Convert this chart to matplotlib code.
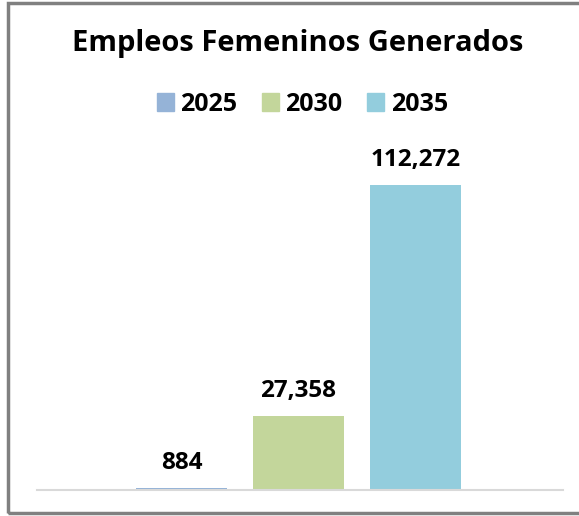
import matplotlib.pyplot as plt
from matplotlib.patches import Rectangle

# data
years = ['2025', '2030', '2035']
empleos = [884, 27358, 112272]
colores = ['#95b3d7', '#c3d69b', '#93cddd']

plt.rcParams['font.family'] = ['Open Sans', 'DejaVu Sans']

fig = plt.figure(figsize=(5.79, 5.16), dpi=100)
ax = fig.add_axes([0.0639, 0.0504, 0.9085, 0.6589])

pos = [0, 1, 2]
bars = ax.bar(pos, empleos, width=0.78, color=colores, label=years)
for x, v in zip(pos, empleos):
    ax.text(x, v + 9000, f'{v:,}', ha='center', va='center',
            fontsize=17.5, fontweight='bold')

ax.set_xlim(-1.235, 3.261)
ax.set_ylim(0, 125000)
for s in ['top', 'right', 'left']:
    ax.spines[s].set_visible(False)
ax.spines['bottom'].set_color('#d9d9d9')
ax.spines['bottom'].set_linewidth(1.5)
ax.set_xticks([])
ax.set_yticks([])

fig.text(0.514, 0.916, 'Empleos Femeninos Generados', ha='center', va='center',
         fontsize=21, fontweight='bold')

handles = [Rectangle((0, 0), 1, 1, color=c) for c in colores]
fig.legend(handles, years, loc='center', bbox_to_anchor=(0.522, 0.798), ncol=3,
           frameon=False, prop={'size': 18, 'weight': 'bold'},
           handlelength=0.68, handleheight=0.68, handletextpad=0.25, columnspacing=1.0)

# marco gris alrededor del grafico
fig.patches.append(Rectangle((8 / 579, 3 / 516), 1.2, 510 / 516, transform=fig.transFigure,
                             fill=False, edgecolor='#808080', linewidth=2.5))

fig.savefig('out.png', dpi=100)
